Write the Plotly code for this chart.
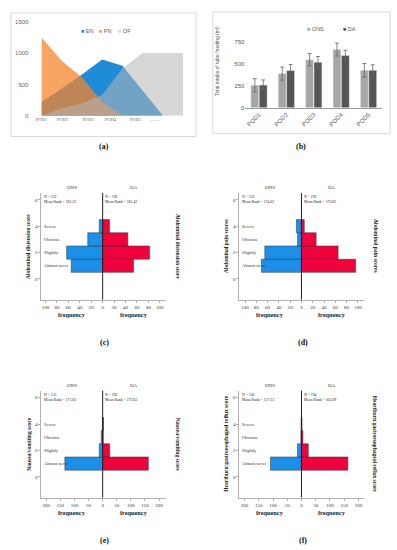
import plotly.graph_objects as go

W, H = 397, 550
def px(v): return v / W
def py(v): return 1 - v / H

# ---------------- (a) data ----------------
a_points = [0, 1, 2, 3, 4, 5, 6, 7]
a_tick_pos = [0, 1.05, 2.3, 3.4, 4.65, 5.6]
a_tick_text = ["POD1", "POD2", "POD3", "POD4", "POD5", "........"]
en_vals = [220, 430, 660, 900, 800, 400, 0, 0]
pn_vals = [1250, 880, 610, 220, 0, 0, 0, 0]
of_vals = [0, 120, 200, 330, 760, 1000, 1000, 1000]

# ---------------- (b) data ----------------
b_days = ["POD1", "POD2", "POD3", "POD4", "POD5"]
b_ons = [255, 388, 545, 660, 425]
b_ons_err = [75, 74, 70, 73, 77]
b_da = [258, 423, 515, 592, 425]
b_da_err = [58, 67, 66, 59, 62]

# ---------------- (c)-(f) data ----------------
score_cats = ["Almost never", "Slightly", "Obvious", "Severe"]
scores = [1, 2, 3, 4]
c_ons = [55, 63, 26, 6]
c_da = [54, 82, 44, 12]
d_ons = [71, 65, 7, 9]
d_da = [96, 65, 26, 5]
e_ons = [134, 12, 5, 1]
e_da = [162, 25, 2, 3]
f_ons = [109, 14, 2, 1]
f_da = [163, 24, 5, 2]
stat_text = {
    "c": ("N = 152<br>Mean Rank = 161.22", "N = 192<br>Mean Rank = 181.43"),
    "d": ("N = 152<br>Mean Rank = 174.62", "N = 192<br>Mean Rank = 170.82"),
    "e": ("N = 152<br>Mean Rank = 171.03", "N = 192<br>Mean Rank = 173.63"),
    "f": ("N = 126<br>Mean Rank = 157.13", "N = 194<br>Mean Rank = 162.69"),
}
y_titles = {
    "c": "Abdominal distension score",
    "d": "Abdominal pain scores",
    "e": "Nausea/vomiting score",
    "f": "Heartburn/gastroesophageal reflux score",
}

SANS = "Liberation Sans"
SERIF = "Liberation Serif"


def ann(text, x, y, size, family=SERIF, color="#222", xref="paper", yref="paper",
        xanchor="center", yanchor="middle", **kw):
    return dict(text=text, x=x, y=y, xref=xref, yref=yref, xanchor=xanchor,
                yanchor=yanchor, showarrow=False, borderpad=0,
                font=dict(size=size, family=family, color=color), **kw)


fig = go.Figure()

# ---- (a) area chart
for name, vals, col in [("EN", en_vals, "rgba(8,128,212,0.9)"),
                        ("PN", pn_vals, "rgba(244,132,45,0.75)"),
                        ("OF", of_vals, "rgba(182,182,182,0.55)")]:
    fig.add_trace(go.Scatter(x=a_points, y=vals, fill="tozeroy", mode="none",
                             fillcolor=col, name=name, showlegend=False,
                             xaxis="x", yaxis="y", hoverinfo="skip"))

# ---- (b) bar chart
fig.add_trace(go.Bar(x=b_days, y=b_ons, name="ONS", marker_color="#A6A6A6",
                     error_y=dict(type="data", array=b_ons_err, color="#666",
                                  thickness=0.8, width=2),
                     xaxis="x2", yaxis="y2", showlegend=False))
fig.add_trace(go.Bar(x=b_days, y=b_da, name="DA", marker_color="#555555",
                     error_y=dict(type="data", array=b_da_err, color="#666",
                                  thickness=0.8, width=2),
                     xaxis="x2", yaxis="y2", showlegend=False))

# ---- pyramids
panels = [
    ("c", c_ons, c_da, 36, 98, 162, 192, 300, [-107, 110], 20),
    ("d", d_ons, d_da, 237, 300, 363, 192, 300, [-110, 110], 20),
    ("e", e_ons, e_da, 36, 98, 162, 392, 500, [-217, 223], 50),
    ("f", f_ons, f_da, 237, 300, 363, 392, 500, [-218, 218], 50),
]

layout_axes = {}
annotations = []
shapes = []

for i, (key, ons, da, L, C, R, T, B, xr, step) in enumerate(panels):
    xn = i + 3
    yn = i + 3
    yr_n = i + 7
    xa, ya = f"x{xn}", f"y{yn}"
    fig.add_trace(go.Bar(y=scores, x=[-v for v in ons], orientation="h", width=1,
                         offsetgroup="p", marker=dict(color="#1C8FE8",
                         line=dict(color="#333", width=0.5)),
                         xaxis=xa, yaxis=ya, showlegend=False, name="ONS"))
    fig.add_trace(go.Bar(y=scores, x=da, orientation="h", width=1,
                         offsetgroup="p", marker=dict(color="#F0033C",
                         line=dict(color="#333", width=0.5)),
                         xaxis=xa, yaxis=ya, showlegend=False, name="DA"))
    lim = 100 if step == 20 else 200
    tv = list(range(-lim, lim + 1, step))
    layout_axes[f"xaxis{xn}"] = dict(
        domain=[px(L), px(R)], anchor=ya, range=xr, tickvals=tv,
        ticktext=[str(abs(t)) for t in tv], showline=True, linecolor="#B0B0B0",
        linewidth=1, zeroline=False, showgrid=False, ticks="outside", ticklen=2,
        tickcolor="#B0B0B0", tickfont=dict(size=5, family=SERIF, color="#333"))
    yax = dict(range=[-1.575, 6.525], tickvals=[0, 2, 4, 6], showline=True,
               linecolor="#B0B0B0", linewidth=1, ticks="outside", ticklen=2,
               tickcolor="#B0B0B0", showgrid=False, zeroline=False,
               tickfont=dict(size=5, family=SERIF, color="#333"))
    layout_axes[f"yaxis{yn}"] = dict(domain=[py(B), py(T)], anchor=xa, **yax)
    layout_axes[f"yaxis{yr_n}"] = dict(overlaying=ya, anchor=xa, side="right", **yax)
    shapes.append(dict(type="line", xref=xa, yref=f"{ya} domain", x0=0, x1=0,
                       y0=0, y1=1, line=dict(color="#222", width=1), layer="above"))
    for s, cat in zip(scores, score_cats):
        annotations.append(ann(cat, px(L + 1.5), s, 4.5, yref=ya, xanchor="left",
                               color="#333"))
    annotations.append(ann("ONS", px((L + C) / 2), py(T - 5), 5, color="#333"))
    annotations.append(ann("DA", px((C + R) / 2), py(T - 5), 5, color="#333"))
    st_ons, st_da = stat_text[key]
    annotations.append(ann(st_ons, px(L + 1.5), py(T + 1), 3.8, xanchor="left",
                           yanchor="top", align="left"))
    annotations.append(ann(st_da, px(C + 1.5), py(T + 1), 3.8, xanchor="left",
                           yanchor="top", align="left"))
    for xc in [(L + C) / 2, (C + R) / 2]:
        annotations.append(ann("<b>frequency</b>", px(xc), py(B + 15), 6.3))
    annotations.append(ann("<b>" + y_titles[key] + "</b>", px(L - 13), py((T + B) / 2),
                           5.5, textangle=-90))
    annotations.append(ann("<b>" + y_titles[key] + "</b>", px(R + 12), py((T + B) / 2),
                           5.5, textangle=90))
    annotations.append(ann(f"<b>({key})</b>", px(C + 2), py(B + 43), 8, color="#111"))

# ---- (a)/(b) frames, legends, labels
shapes.append(dict(type="rect", xref="paper", yref="paper", x0=px(5), x1=px(193),
                   y0=py(135), y1=py(10), line=dict(color="#D5DCD5", width=1)))
shapes.append(dict(type="rect", xref="paper", yref="paper", x0=px(210), x1=px(390),
                   y0=py(132), y1=py(9), line=dict(color="#D5DCD5", width=1)))


def legend_item(x, y, color, label):
    return ann(f"<span style='color:{color}'>■</span> {label}", px(x), py(y), 5.5,
               family=SANS, color="#595959", xanchor="left")


annotations += [
    legend_item(75, 28, "#1E8CD6", "EN"),
    legend_item(93, 28, "#F7A05C", "PN"),
    legend_item(113, 28, "#D6D6D6", "OF"),
    legend_item(305, 26, "#A6A6A6", "ONS"),
    legend_item(341, 26, "#555555", "DA"),
    ann("Total intake of tube feeding (ml)", px(215), py(59), 5, family=SANS,
        color="#595959", textangle=-90),
    ann("<b>(a)</b>", px(100), py(145), 8, color="#111"),
    ann("<b>(b)</b>", px(300), py(145), 8, color="#111"),
]

fig.update_layout(
    width=W, height=H, autosize=False,
    margin=dict(l=0, r=0, t=0, b=0),
    paper_bgcolor="white", plot_bgcolor="rgba(0,0,0,0)",
    barmode="group", bargap=0.39, bargroupgap=0.05,
    showlegend=False,
    xaxis=dict(domain=[px(36), px(180)], anchor="y", range=[0, 7],
               tickvals=a_tick_pos, ticktext=a_tick_text, showgrid=False,
               zeroline=False, showline=False,
               tickfont=dict(size=4.5, family=SERIF, color="#666")),
    yaxis=dict(domain=[py(114), py(19)], anchor="x", range=[0, 1500],
               tickvals=[0, 500, 1000, 1500], showgrid=False, zeroline=False,
               showline=False, ticklabelstandoff=12,
               tickfont=dict(size=6, family=SANS, color="#666")),
    xaxis2=dict(domain=[px(243), px(382)], anchor="y2", tickangle=-45,
                showline=True, linecolor="#999", showgrid=False,
                tickfont=dict(size=6, family=SANS, color="#595959")),
    yaxis2=dict(domain=[py(106), py(25.6)], anchor="x2", range=[0, 900],
                tickvals=[0, 250, 500, 750], showgrid=False, zeroline=False,
                showline=False, tickfont=dict(size=6, family=SANS, color="#595959")),
    annotations=annotations, shapes=shapes,
    **layout_axes,
)

fig.write_html("out.html", config={"displayModeBar": False},
               post_script="document.body.style.margin='0';")
